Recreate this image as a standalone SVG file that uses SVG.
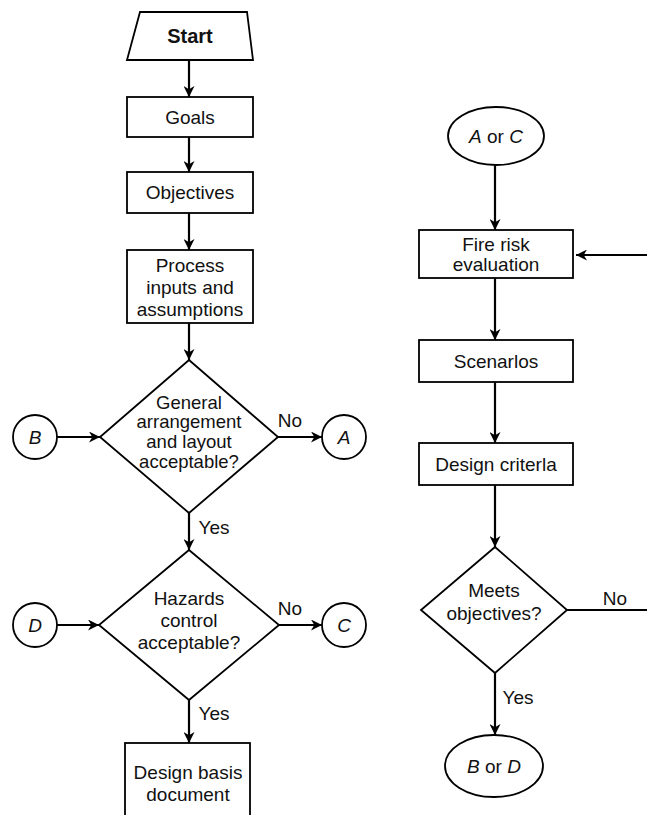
<svg xmlns="http://www.w3.org/2000/svg" width="647" height="815" viewBox="0 0 647 815">
<defs>
<style>
.n{fill:#fff;stroke:#000;stroke-width:1.8}
.t{font-family:"Liberation Sans",Arial,sans-serif;font-size:19px;fill:#111;text-anchor:middle;dominant-baseline:central}
.d{font-size:18.5px}
.b{font-weight:bold}
.i{font-style:italic}
.c{fill:none;stroke:#000;stroke-width:2.2}
</style>
<marker id="ah" viewBox="0 0 10 10" refX="10" refY="5" markerWidth="11" markerHeight="11" markerUnits="userSpaceOnUse" orient="auto">
<path d="M0,0 L10,5 L0,10 L3,5 Z" fill="#000"/>
</marker>
</defs>
<rect width="647" height="815" fill="#fff"/>
<g id="connectors">
<line class="c" x1="189" y1="60" x2="189" y2="97" marker-end="url(#ah)"/>
<line class="c" x1="189" y1="137" x2="189" y2="172" marker-end="url(#ah)"/>
<line class="c" x1="189" y1="213" x2="189" y2="250" marker-end="url(#ah)"/>
<line class="c" x1="189" y1="323" x2="189" y2="360" marker-end="url(#ah)"/>
<line class="c" x1="57" y1="437" x2="100" y2="437" marker-end="url(#ah)"/>
<line class="c" x1="278" y1="437" x2="322" y2="437" marker-end="url(#ah)"/>
<line class="c" x1="189" y1="513" x2="189" y2="550" marker-end="url(#ah)"/>
<line class="c" x1="57" y1="625" x2="99" y2="625" marker-end="url(#ah)"/>
<line class="c" x1="279" y1="625" x2="322" y2="625" marker-end="url(#ah)"/>
<line class="c" x1="189" y1="700" x2="189" y2="743" marker-end="url(#ah)"/>
<line class="c" x1="495" y1="165" x2="495" y2="230" marker-end="url(#ah)"/>
<line class="c" x1="647" y1="255" x2="576" y2="255" marker-end="url(#ah)"/>
<line class="c" x1="495" y1="278" x2="495" y2="340" marker-end="url(#ah)"/>
<line class="c" x1="495" y1="382" x2="495" y2="443" marker-end="url(#ah)"/>
<line class="c" x1="495" y1="485" x2="495" y2="547" marker-end="url(#ah)"/>
<line class="c" x1="567" y1="610" x2="647" y2="610"/>
<line class="c" x1="495" y1="673" x2="495" y2="735" marker-end="url(#ah)"/>
<text class="t" x="290" y="420">No</text>
<text class="t" x="214" y="527">Yes</text>
<text class="t" x="290" y="608">No</text>
<text class="t" x="214" y="713">Yes</text>
<text class="t" x="615" y="598">No</text>
<text class="t" x="518" y="697">Yes</text>
</g>
<g id="start">
<polygon class="n" points="140,12 247,12 253,60 127,60"/>
<text class="t b" x="190" y="36" style="font-size:20px">Start</text>
</g>
<g id="goals">
<rect class="n" x="127" y="97" width="126" height="40"/>
<text class="t" x="190" y="117">Goals</text>
</g>
<g id="objectives">
<rect class="n" x="127" y="172" width="126" height="41"/>
<text class="t" x="190" y="192">Objectives</text>
</g>
<g id="process">
<rect class="n" x="127" y="250" width="126" height="73"/>
<text class="t" x="190" y="265">Process</text>
<text class="t" x="190" y="287">inputs and</text>
<text class="t" x="190" y="309">assumptions</text>
</g>
<g id="general">
<polygon class="n" points="189,360 278,437 189,513 100,437"/>
<text class="t d" x="189" y="402">General</text>
<text class="t d" x="189" y="421">arrangement</text>
<text class="t d" x="189" y="441">and layout</text>
<text class="t d" x="189" y="461">acceptable?</text>
</g>
<g id="B">
<circle class="n" cx="35" cy="437" r="22"/>
<text class="t i" x="35" y="437">B</text>
</g>
<g id="A">
<circle class="n" cx="344" cy="437" r="22"/>
<text class="t i" x="344" y="437">A</text>
</g>
<g id="hazards">
<polygon class="n" points="189,550 279,625 189,700 99,625"/>
<text class="t" x="189" y="598">Hazards</text>
<text class="t" x="189" y="620">control</text>
<text class="t" x="189" y="642">acceptable?</text>
</g>
<g id="D">
<circle class="n" cx="35" cy="625" r="22"/>
<text class="t i" x="35" y="625">D</text>
</g>
<g id="C">
<circle class="n" cx="344" cy="625" r="22"/>
<text class="t i" x="344" y="625">C</text>
</g>
<g id="design-basis">
<rect class="n" x="125" y="743" width="125" height="80"/>
<text class="t" x="188" y="772">Design basis</text>
<text class="t" x="188" y="794">document</text>
</g>
<g id="AorC">
<ellipse class="n" cx="496" cy="136" rx="48" ry="29"/>
<text class="t" x="496" y="136"><tspan class="i">A</tspan> or <tspan class="i">C</tspan></text>
</g>
<g id="fire">
<rect class="n" x="419" y="230" width="154" height="48"/>
<text class="t" x="496" y="244">Fire risk</text>
<text class="t" x="496" y="264">evaluation</text>
</g>
<g id="scenarios">
<rect class="n" x="419" y="340" width="154" height="42"/>
<text class="t" x="496" y="361">Scenarlos</text>
</g>
<g id="criteria">
<rect class="n" x="419" y="443" width="154" height="42"/>
<text class="t" x="496" y="464">Design criterla</text>
</g>
<g id="meets">
<polygon class="n" points="495,547 567,610 495,673 421,610"/>
<text class="t" x="494" y="590">Meets</text>
<text class="t" x="494" y="613">objectives?</text>
</g>
<g id="BorD">
<ellipse class="n" cx="494" cy="766" rx="49" ry="31"/>
<text class="t" x="494" y="766"><tspan class="i">B</tspan> or <tspan class="i">D</tspan></text>
</g>
</svg>
